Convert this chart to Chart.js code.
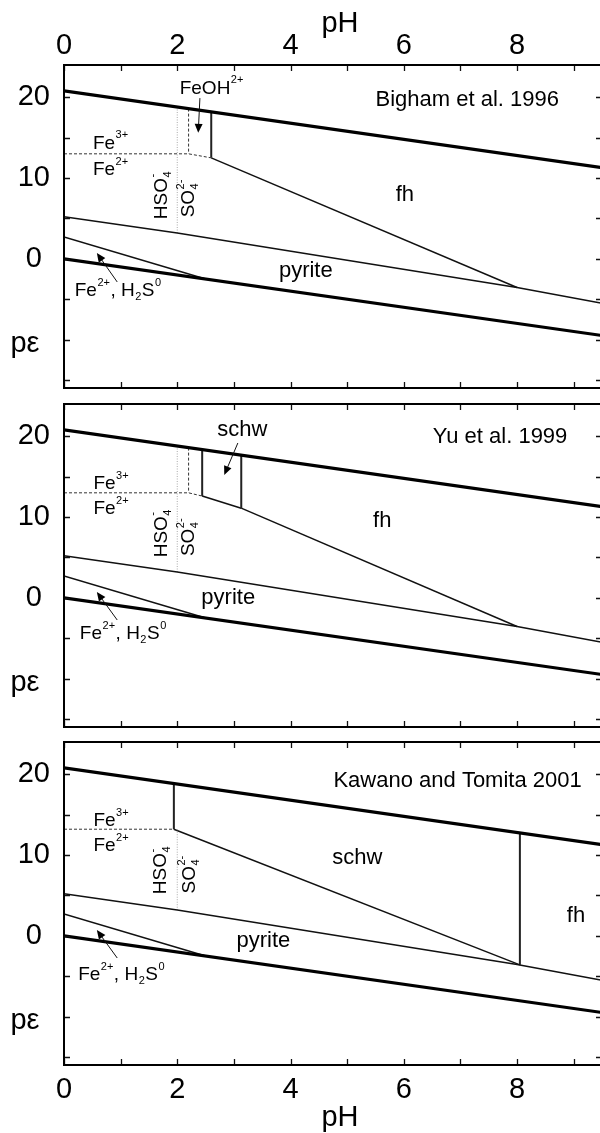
<!DOCTYPE html>
<html>
<head>
<meta charset="utf-8">
<script src="https://cdn.jsdelivr.net/npm/chart.js@4.4.1/dist/chart.umd.min.js"></script>
<style>
  html, body { margin: 0; padding: 0; background: #fff; overflow: hidden; width: 600px; height: 1133px; }
  canvas { position: absolute; left: 0; }
</style>
</head>
<body>
<canvas id="bigham" width="602" height="390" style="top:0px"></canvas>
<canvas id="yu" width="602" height="337" style="top:392px"></canvas>
<canvas id="kawano" width="602" height="403" style="top:730px"></canvas>
<script>
// ---- axes ----
const PH_MIN = 0, PH_MAX = 9.5;
const PE_MIN = -16, PE_MAX = 24;
const phTicks = [0, 1, 2, 3, 4, 5, 6, 7, 8, 9];
const phTickLabels = ['0', '', '2', '', '4', '', '6', '', '8', ''];
const peTicks = [-15, -10, -5, 0, 5, 10, 15, 20];
const peTickLabels = ['', '', '', '0', '', '10', '', '20'];

// ---- boundaries shared by all three diagrams ----
const o2WaterPH = [0, 9.5];          // O2 / H2O
const o2WaterPE = [20.8, 11.3];
const waterH2PH = [0, 9.5];          // H2O / H2
const waterH2PE = [0, -9.5];
const sulfatePyritePH = [0, 2, 8, 9.5];
const sulfatePyritePE = [5.2, 3.2, -3.55, -5.5];
const pyriteH2sPH = [0, 2.5];
const pyriteH2sPE = [2.7, -2.5];

// ---- Bigham et al. 1996 ----
const bighamFe32PH = [0, 2.2, 2.6];
const bighamFe32PE = [13.0, 13.0, 12.5];
const bighamSulfPH = [2, 2];
const bighamSulfPE = [18.8, 3.2];
const bighamFeOHPH = [2.2, 2.2];
const bighamFeOHPE = [18.6, 13.0];
const bighamFhEdgePH = [2.6, 2.6];
const bighamFhEdgePE = [18.2, 12.5];
const bighamFhPH = [2.6, 8.0];
const bighamFhPE = [12.5, -3.55];

// ---- Yu et al. 1999 ----
const yuFe32PH = [0, 2.2, 2.44];
const yuFe32PE = [13.0, 13.0, 12.6];
const yuSulfPH = [2, 2];
const yuSulfPE = [18.8, 3.2];
const yuFeOHPH = [2.2, 2.2];
const yuFeOHPE = [18.6, 13.0];
const yuSchwLeftPH = [2.44, 2.44];
const yuSchwLeftPE = [18.36, 12.6];
const yuSchwRightPH = [3.13, 3.13];
const yuSchwRightPE = [17.67, 11.1];
const yuSchwBasePH = [2.44, 3.13];
const yuSchwBasePE = [12.6, 11.1];
const yuFhPH = [3.13, 8.0];
const yuFhPE = [11.1, -3.55];

// ---- Kawano and Tomita 2001 ----
const kawanoFe32PH = [0, 1.94];
const kawanoFe32PE = [13.2, 13.2];
const kawanoSulfPH = [2, 2];
const kawanoSulfPE = [13.2, 3.2];
const kawanoSchwEdgePH = [1.94, 1.94];
const kawanoSchwEdgePE = [18.86, 13.2];
const kawanoSchwPH = [1.94, 8.05];
const kawanoSchwPE = [13.2, -3.6];
const kawanoFhEdgePH = [8.05, 8.05];
const kawanoFhEdgePE = [12.75, -3.6];

// ---- line styles ----
const STYLES = {
  thick: { borderWidth: 3.2, borderColor: '#000' },
  thin:  { borderWidth: 1.5, borderColor: '#111' },
  edge:  { borderWidth: 2,   borderColor: '#222' },
  dash:  { borderWidth: 1,   borderColor: '#333', borderDash: [3, 2] },
  dot:   { borderWidth: 1,   borderColor: '#aaa', borderDash: [1, 1.5] }
};

const FONT = '"Liberation Sans", Arial, Helvetica, sans-serif';

// rich-text fragments
const FE3 = [['Fe'], ['3+', 'sup']];
const FE2 = [['Fe'], ['2+', 'sup']];
const FEOH = [['FeOH'], ['2+', 'sup']];
const HSO4 = [['HSO'], ['4', '-', 'stack']];
const SO4 = [['SO'], ['4', '2-', 'stack']];
const FE2H2S = [['Fe'], ['2+', 'sup'], [', H'], ['2', 'sub'], ['S'], ['0', 'sup']];

const shared = [
  [o2WaterPH, o2WaterPE, 'thick'],
  [waterH2PH, waterH2PE, 'thick'],
  [sulfatePyritePH, sulfatePyritePE, 'thin'],
  [pyriteH2sPH, pyriteH2sPE, 'thin']
];

const panels = {
  bigham: {
    lines: shared.concat([
      [bighamSulfPH, bighamSulfPE, 'dot'],
      [bighamFe32PH, bighamFe32PE, 'dash'],
      [bighamFeOHPH, bighamFeOHPE, 'dash'],
      [bighamFhEdgePH, bighamFhEdgePE, 'edge'],
      [bighamFhPH, bighamFhPE, 'thin']
    ]),
    axis: 'top',
    padding: { top: 0, bottom: 2 },
    xHeight: 65,
    notes: [
      { t: [['Bigham et al. 1996']], x: 7.12, y: 19.7, a: 'center', s: 22 },
      { t: [['fh']], x: 6.02, y: 7.96, a: 'center', s: 22 },
      { t: FEOH, x: 2.61, y: 21.1, a: 'center', s: 19 },
      { t: FE3, x: 0.51, y: 14.3, a: 'left', s: 19 },
      { t: FE2, x: 0.51, y: 11.0, a: 'left', s: 19 },
      { t: HSO4, x: 1.72, y: 7.9, a: 'center', s: 19, rot: true },
      { t: SO4, x: 2.21, y: 7.5, a: 'center', s: 19, rot: true },
      { t: [['pyrite']], x: 4.27, y: -1.5, a: 'center', s: 22 },
      { t: FE2H2S, x: 0.19, y: -3.93, a: 'left', s: 19 }
    ],
    arrows: [
      [2.40, 19.9, 2.37, 15.6],
      [0.94, -2.87, 0.58, 0.72]
    ]
  },
  yu: {
    lines: shared.concat([
      [yuSulfPH, yuSulfPE, 'dot'],
      [yuFe32PH, yuFe32PE, 'dash'],
      [yuFeOHPH, yuFeOHPE, 'dash'],
      [yuSchwLeftPH, yuSchwLeftPE, 'edge'],
      [yuSchwRightPH, yuSchwRightPE, 'edge'],
      [yuSchwBasePH, yuSchwBasePE, 'thin'],
      [yuFhPH, yuFhPE, 'thin']
    ]),
    axis: null,
    padding: { top: 12, bottom: 2 },
    xHeight: 0,
    notes: [
      { t: [['Yu et al. 1999']], x: 7.70, y: 19.9, a: 'center', s: 22 },
      { t: [['fh']], x: 5.62, y: 9.57, a: 'center', s: 22 },
      { t: [['schw']], x: 3.15, y: 20.8, a: 'center', s: 22 },
      { t: FE3, x: 0.52, y: 14.15, a: 'left', s: 19 },
      { t: FE2, x: 0.52, y: 11.06, a: 'left', s: 19 },
      { t: HSO4, x: 1.72, y: 8.0, a: 'center', s: 19, rot: true },
      { t: SO4, x: 2.21, y: 7.53, a: 'center', s: 19, rot: true },
      { t: [['pyrite']], x: 2.90, y: 0.0, a: 'center', s: 22 },
      { t: FE2H2S, x: 0.28, y: -4.42, a: 'left', s: 19 }
    ],
    arrows: [
      [3.07, 19.17, 2.83, 15.2],
      [0.94, -2.75, 0.58, 0.72]
    ]
  },
  kawano: {
    lines: shared.concat([
      [kawanoSulfPH, kawanoSulfPE, 'dot'],
      [kawanoFe32PH, kawanoFe32PE, 'dash'],
      [kawanoSchwEdgePH, kawanoSchwEdgePE, 'edge'],
      [kawanoSchwPH, kawanoSchwPE, 'thin'],
      [kawanoFhEdgePH, kawanoFhEdgePE, 'edge']
    ]),
    axis: 'bottom',
    padding: { top: 12, bottom: 0 },
    xHeight: 68,
    notes: [
      { t: [['Kawano and Tomita 2001']], x: 6.95, y: 19.23, a: 'center', s: 22 },
      { t: [['schw']], x: 5.18, y: 9.7, a: 'center', s: 22 },
      { t: [['fh']], x: 9.04, y: 2.51, a: 'center', s: 22 },
      { t: FE3, x: 0.52, y: 14.2, a: 'left', s: 19 },
      { t: FE2, x: 0.52, y: 11.1, a: 'left', s: 19 },
      { t: HSO4, x: 1.71, y: 8.15, a: 'center', s: 19, rot: true },
      { t: SO4, x: 2.22, y: 7.6, a: 'center', s: 19, rot: true },
      { t: [['pyrite']], x: 3.52, y: -0.6, a: 'center', s: 22 },
      { t: FE2H2S, x: 0.25, y: -4.8, a: 'left', s: 19 }
    ],
    arrows: [
      [0.94, -2.75, 0.58, 0.72]
    ]
  }
};

// ---- rich text helpers ----
function partWidth(ctx, p, size) {
  const small = Math.round(size * 0.6);
  if (!p[1]) { ctx.font = size + 'px ' + FONT; return ctx.measureText(p[0]).width; }
  ctx.font = small + 'px ' + FONT;
  if (p[2] === 'stack') return Math.max(ctx.measureText(p[0]).width, ctx.measureText(p[1]).width) + 1;
  return ctx.measureText(p[0]).width + 1;
}

function drawRich(ctx, parts, x, y, size, align) {
  const small = Math.round(size * 0.6);
  const widths = parts.map(p => partWidth(ctx, p, size));
  const total = widths.reduce((a, b) => a + b, 0);
  let cx = align === 'center' ? x - total / 2 : (align === 'right' ? x - total : x);
  ctx.textAlign = 'left';
  ctx.textBaseline = 'middle';
  ctx.fillStyle = '#000';
  parts.forEach((p, i) => {
    if (!p[1]) {
      ctx.font = size + 'px ' + FONT;
      ctx.fillText(p[0], cx, y);
    } else {
      ctx.font = small + 'px ' + FONT;
      if (p[2] === 'stack') {
        ctx.fillText(p[0], cx + 0.5, y + 0.32 * size);
        ctx.fillText(p[1], cx + 0.5, y - 0.42 * size);
      } else if (p[1] === 'sup') {
        ctx.fillText(p[0], cx + 0.5, y - 0.42 * size);
      } else {
        ctx.fillText(p[0], cx + 0.5, y + 0.32 * size);
      }
    }
    cx += widths[i];
  });
}

function drawArrow(ctx, x0, y0, x1, y1) {
  const ang = Math.atan2(y1 - y0, x1 - x0);
  const len = 9, half = 4;
  ctx.save();
  ctx.strokeStyle = '#111';
  ctx.lineWidth = 1;
  ctx.beginPath();
  ctx.moveTo(x0, y0);
  ctx.lineTo(x1 - Math.cos(ang) * len * 0.8, y1 - Math.sin(ang) * len * 0.8);
  ctx.stroke();
  ctx.fillStyle = '#000';
  ctx.beginPath();
  ctx.moveTo(x1, y1);
  ctx.lineTo(x1 - Math.cos(ang) * len + Math.sin(ang) * half, y1 - Math.sin(ang) * len - Math.cos(ang) * half);
  ctx.lineTo(x1 - Math.cos(ang) * len - Math.sin(ang) * half, y1 - Math.sin(ang) * len + Math.cos(ang) * half);
  ctx.closePath();
  ctx.fill();
  ctx.restore();
}

// frame, inward tick marks, axis titles and field labels
const decorations = {
  id: 'decorations',
  afterDatasetsDraw(chart) {
    const ctx = chart.ctx;
    const area = chart.chartArea;
    const xs = chart.scales.x, ys = chart.scales.y;
    const cfg = panels[chart.canvas.id];
    ctx.save();

    ctx.strokeStyle = '#111';
    ctx.lineWidth = 1.3;
    ctx.beginPath();
    phTicks.forEach(v => {
      const px = Math.round(xs.getPixelForValue(v)) + 0.5;
      ctx.moveTo(px, area.top); ctx.lineTo(px, area.top + 6);
      ctx.moveTo(px, area.bottom); ctx.lineTo(px, area.bottom - 6);
    });
    peTicks.forEach(v => {
      const py = Math.round(ys.getPixelForValue(v)) + 0.5;
      ctx.moveTo(area.left, py); ctx.lineTo(area.left + 6, py);
      ctx.moveTo(area.right, py); ctx.lineTo(area.right - 6, py);
    });
    ctx.stroke();

    ctx.strokeStyle = '#000';
    ctx.lineWidth = 2;
    ctx.strokeRect(area.left, area.top, area.right - area.left, area.bottom - area.top);

    ctx.fillStyle = '#000';
    ctx.font = '29px ' + FONT;
    ctx.textAlign = 'center';
    ctx.textBaseline = 'alphabetic';
    ctx.fillText('p\u03B5', 25, ys.getPixelForValue(-10) + 12);
    const midX = (area.left + area.right) / 2 + 7;
    if (cfg.axis === 'top') ctx.fillText('pH', midX, area.top - 33);
    if (cfg.axis === 'bottom') ctx.fillText('pH', midX, area.bottom + 61);

    cfg.notes.forEach(n => {
      const px = xs.getPixelForValue(n.x), py = ys.getPixelForValue(n.y);
      if (n.rot) {
        ctx.save();
        ctx.translate(px, py);
        ctx.rotate(-Math.PI / 2);
        drawRich(ctx, n.t, 0, 0, n.s, 'center');
        ctx.restore();
      } else {
        drawRich(ctx, n.t, px, py, n.s, n.a);
      }
    });
    cfg.arrows.forEach(a => drawArrow(ctx,
      xs.getPixelForValue(a[0]), ys.getPixelForValue(a[1]),
      xs.getPixelForValue(a[2]), ys.getPixelForValue(a[3])));
    ctx.restore();
  }
};

// scales keep their fixed sizes and add no edge padding for labels
function fixX(cfg) {
  return s => {
    s.height = cfg.xHeight;
    s.paddingLeft = s.paddingRight = s.paddingTop = s.paddingBottom = 0;
  };
}
function fixY(s) {
  s.width = 64;
  s.paddingLeft = s.paddingRight = s.paddingTop = s.paddingBottom = 0;
}

function build(id) {
  const cfg = panels[id];
  const datasets = cfg.lines.map(([ph, pe, style]) => Object.assign({
    data: ph.map((x, i) => ({ x, y: pe[i] })),
    pointRadius: 0,
    fill: false,
    tension: 0,
    borderCapStyle: 'butt',
    borderJoinStyle: 'miter'
  }, STYLES[style]));

  new Chart(document.getElementById(id), {
    type: 'line',
    data: { datasets },
    options: {
      responsive: false,
      animation: false,
      devicePixelRatio: 1,
      events: [],
      layout: { autoPadding: false, padding: { top: cfg.padding.top, bottom: cfg.padding.bottom, left: 0, right: 0 } },
      plugins: { legend: { display: false }, tooltip: { enabled: false } },
      scales: {
        x: {
          type: 'linear',
          min: PH_MIN, max: PH_MAX,
          position: cfg.axis || 'bottom',
          display: !!cfg.axis,
          afterBuildTicks: s => { s.ticks = phTicks.map(v => ({ value: v })); },
          afterFit: fixX(cfg),
          ticks: {
            autoSkip: false, maxRotation: 0,
            padding: cfg.axis === 'top' ? 2 : 8,
            color: '#000',
            font: { family: FONT, size: 29 },
            callback: v => phTickLabels[phTicks.indexOf(v)] || ''
          },
          grid: { display: false, drawTicks: false },
          border: { display: false }
        },
        y: {
          type: 'linear',
          min: PE_MIN, max: PE_MAX,
          afterBuildTicks: s => { s.ticks = peTicks.map(v => ({ value: v })); },
          afterFit: fixY,
          ticks: {
            autoSkip: false,
            crossAlign: 'center',
            padding: 14,
            color: '#000',
            font: { family: FONT, size: 29 },
            callback: v => peTickLabels[peTicks.indexOf(v)] || ''
          },
          grid: { display: false, drawTicks: false },
          border: { display: false }
        }
      }
    },
    plugins: [decorations]
  });
}

['bigham', 'yu', 'kawano'].forEach(build);
</script>
</body>
</html>
